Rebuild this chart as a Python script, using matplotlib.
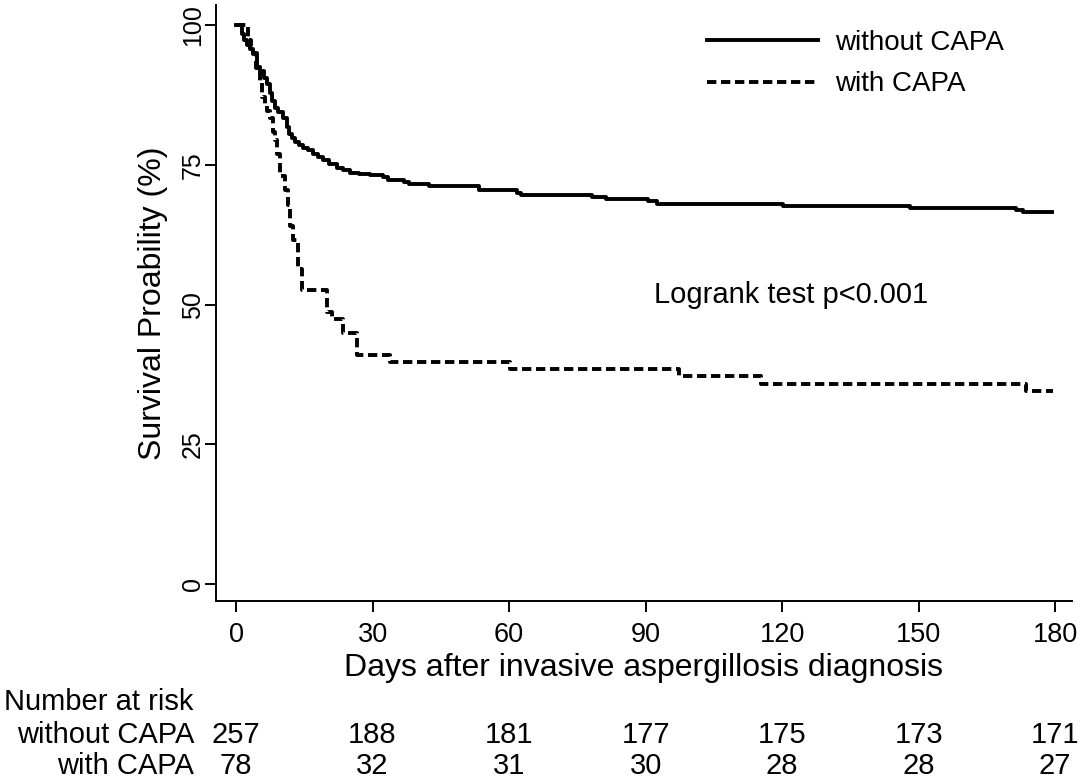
import matplotlib
matplotlib.use("Agg")
import matplotlib.pyplot as plt
import matplotlib.transforms as mtransforms

plt.rcParams['font.family'] = ['Liberation Sans', 'DejaVu Sans']

# Kaplan-Meier steps (day, survival %)
days_without = [0, 1.3, 1.8, 2.4, 3.0, 3.7, 4.6, 5.3, 6.1, 6.8, 7.5, 8.0, 8.6, 9.2,
                10.4, 11.1, 11.6, 12.3, 12.9, 13.8, 14.7, 15.8, 16.9, 18.0, 19.1,
                20.5, 22.1, 23.5, 25.0, 27.0, 29.4, 32.2, 33.5, 37.0, 38.0, 42.5,
                53.5, 61.8, 62.7, 78.3, 81.3, 90.5, 92.5, 120.3, 148.2, 171.3,
                173.0, 179.2]
surv_without = [100, 98.4, 97.3, 96.4, 95.7, 95.0, 92.6, 91.8, 90.5, 89.5, 87.9,
                86.4, 85.2, 84.4, 83.3, 81.7, 80.5, 79.8, 79.1, 78.6, 78.0, 77.6,
                77.0, 76.5, 75.9, 75.1, 74.5, 74.0, 73.5, 73.3, 73.15, 72.76,
                72.37, 71.98, 71.60, 71.21, 70.43, 70.04, 69.65, 69.26, 68.87,
                68.48, 68.09, 67.70, 67.32, 66.93, 66.54, 66.54]

days_with = [0, 2.7, 3.3, 3.8, 4.4, 5.3, 5.8, 6.3, 6.8, 7.5, 8.1, 8.6, 9.0, 9.6,
             10.7, 11.4, 11.8, 12.5, 13.6, 14.5, 20.0, 21.0, 23.5, 26.5, 33.8,
             60.1, 97.4, 115.3, 173.7, 179.6]
surv_with = [100, 97.4, 96.2, 94.9, 92.3, 89.7, 87.2, 85.9, 84.6, 83.3, 80.8,
             79.5, 76.9, 73.1, 70.5, 67.9, 64.1, 61.5, 56.4, 52.6, 48.7, 47.4,
             44.9, 41.0, 39.7, 38.5, 37.2, 35.9, 34.6, 34.6]

# number at risk table
risk_days = [0, 30, 60, 90, 120, 150, 180]
risk_without = [257, 188, 181, 177, 175, 173, 171]
risk_with = [78, 32, 31, 30, 28, 28, 27]

fig = plt.figure(figsize=(10.84, 7.79), dpi=100)
ax = fig.add_axes([216 / 1084, 1 - 601 / 779, (1072 - 216) / 1084, (601 - 5) / 779])

ax.step(days_without, surv_without, where='post', color='black', lw=2.8,
        label='without CAPA')
ax.step(days_with, surv_with, where='post', color='black', lw=2.8,
        dashes=(2.4, 1.2), label='with CAPA')

ax.set_xlim(-4.4, 183.7)
ax.set_ylim(-3.0, 103.6)
ax.set_xticks(risk_days)
ax.set_yticks([0, 25, 50, 75, 100])
for s in ['top', 'right']:
    ax.spines[s].set_visible(False)
for s in ['left', 'bottom']:
    ax.spines[s].set_linewidth(1.4)
ax.tick_params(axis='both', direction='out', length=8, width=1.4)
ax.tick_params(axis='x', pad=7, labelsize=19.5)
ax.tick_params(axis='y', pad=0, labelsize=18)
for lab in ax.get_yticklabels():
    lab.set_rotation(90)
    lab.set_va('center')

ax.set_ylabel('Survival Proability (%)', fontsize=23, labelpad=9)
ax.set_xlabel('Days after invasive aspergillosis diagnosis', fontsize=23, labelpad=4)

leg = ax.legend(loc='upper left', bbox_to_anchor=(707 / 1084, 1 - 30 / 779),
                bbox_transform=fig.transFigure, frameon=False, fontsize=20,
                handlelength=4.0, handletextpad=0.6, labelspacing=0.55,
                borderpad=0, borderaxespad=0)

ax.text(122, 51.7, 'Logrank test p<0.001', fontsize=21, ha='center', va='center')

# number at risk below the axes
tr = mtransforms.blended_transform_factory(ax.transData, fig.transFigure)
fig.text(4 / 1084, 1 - 702 / 779, 'Number at risk', fontsize=21, ha='left', va='center')
fig.text(194 / 1084, 1 - 735 / 779, 'without CAPA', fontsize=21, ha='right', va='center')
fig.text(194 / 1084, 1 - 766 / 779, 'with CAPA', fontsize=21, ha='right', va='center')
for d, n1, n2 in zip(risk_days, risk_without, risk_with):
    ax.text(d, 1 - 735 / 779, str(n1), transform=tr, fontsize=21, ha='center', va='center')
    ax.text(d, 1 - 766 / 779, str(n2), transform=tr, fontsize=21, ha='center', va='center')

fig.savefig('out.png', dpi=100)
